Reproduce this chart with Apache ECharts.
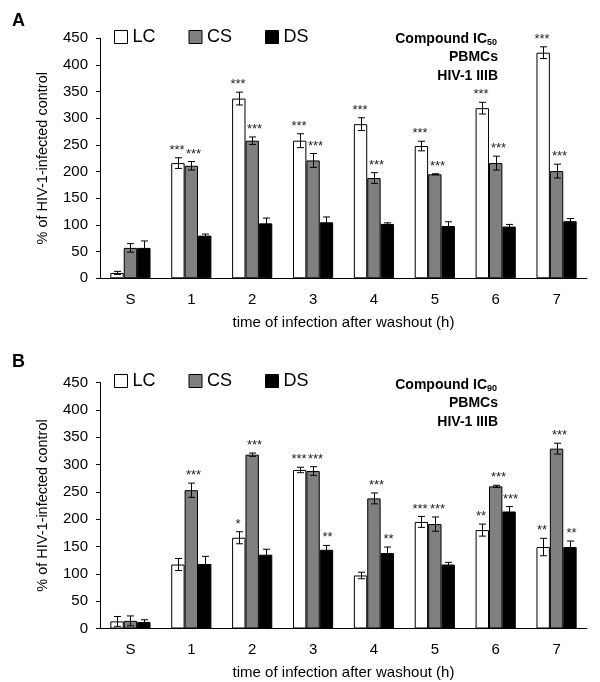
<!DOCTYPE html>
<html><head><meta charset="utf-8">
<script src="https://cdn.jsdelivr.net/npm/echarts@6/dist/echarts.min.js"></script>
<style>html,body{margin:0;padding:0;background:#fff}#c{width:600px;height:682px}</style>
</head><body><div id="c"></div>
<script>
const FONT = '"Liberation Sans", Arial, sans-serif';
const categories = ['S', '1', '2', '3', '4', '5', '6', '7'];
const seriesNames = ['LC', 'CS', 'DS'];
const xTitle = 'time of infection after washout (h)';
const yTitle = '% of HIV-1-infected control';

// Panel A (IC50)
const lcA = [10, 216, 337, 258, 289, 248, 319, 423];
const lcAErr = [3, 10, 12, 13, 12, 9, 11, 11];
const lcAStars = ['', '***', '***', '***', '***', '***', '***', '***'];
const csA = [57, 211, 258, 221, 188, 195, 216, 201];
const csAErr = [8, 8, 7, 13, 10, 1, 13, 13];
const csAStars = ['', '***', '***', '***', '***', '***', '***', '***'];
const dsA = [57, 80, 103, 105, 102, 98, 97, 107];
const dsAErr = [13, 3, 10, 10, 2, 8, 4, 5];
const dsAStars = ['', '', '', '', '', '', '', ''];

// Panel B (IC90)
const lcB = [13, 117, 166, 290, 97, 195, 180, 149];
const lcBErr = [9, 11, 11, 5, 6, 10, 11, 16];
const lcBStars = ['', '', '*', '***', '', '***', '**', '**'];
const csB = [14, 253, 318, 288, 238, 191, 260, 329];
const csBErr = [9, 13, 3, 8, 10, 13, 2, 10];
const csBStars = ['', '***', '***', '***', '***', '***', '***', '***'];
const dsB = [12, 118, 135, 144, 138, 117, 214, 149];
const dsBErr = [4, 14, 10, 8, 11, 4, 9, 11];
const dsBStars = ['', '', '', '**', '**', '', '***', '**'];

const fills = ['#ffffff', '#808080', '#000000'];
const starShift = [-1.5, 2, 1];

function barSeries(name, vals, idx, axis) {
  return {
    type: 'bar', name: name, xAxisIndex: axis, yAxisIndex: axis, data: vals,
    barGap: '0%', barCategoryGap: '34%',
    itemStyle: { color: fills[idx], borderColor: '#000', borderWidth: 1 },
    silent: true
  };
}
function errSeries(name, vals, errs, stars, idx, axis) {
  return {
    type: 'custom', name: name + ' err', xAxisIndex: axis, yAxisIndex: axis, z: 10, silent: true,
    data: vals.map((v, i) => [i, v, errs[i]]),
    renderItem: function (params, api) {
      const cat = api.value(0), v = api.value(1), e = api.value(2);
      const band = api.size([1, 0])[0];
      const bw = band * 0.22;
      const x = Math.round(api.coord([cat, v])[0] + (idx - 1) * bw) + 0.5;
      const yTop = api.coord([cat, v + e])[1];
      const yBot = api.coord([cat, v - e])[1];
      const st = { stroke: '#000', lineWidth: 1 };
      const cap = 3.5;
      const children = [
        { type: 'line', shape: { x1: x, y1: yTop, x2: x, y2: yBot }, style: st },
        { type: 'line', shape: { x1: x - cap, y1: yTop, x2: x + cap, y2: yTop }, style: st },
        { type: 'line', shape: { x1: x - cap, y1: yBot, x2: x + cap, y2: yBot }, style: st }
      ];
      const s = stars[params.dataIndex];
      if (s) {
        children.push({ type: 'text', style: { text: s, x: x + starShift[idx], y: yTop - 1, align: 'center', verticalAlign: 'bottom', fontSize: 13, fontFamily: FONT, fill: '#222' } });
      }
      return { type: 'group', children: children };
    }
  };
}

const axisCommonX = (grid) => ({
  type: 'category', gridIndex: grid, data: categories,
  axisLine: { lineStyle: { color: '#000', width: 1 } },
  axisTick: { length: 5, lineStyle: { color: '#000' } },
  axisLabel: { fontSize: 15, color: '#000', fontFamily: FONT, margin: 14 },
  name: xTitle, nameLocation: 'middle', nameGap: 37,
  nameTextStyle: { fontSize: 15, color: '#000', fontFamily: FONT }
});
const axisCommonY = (grid) => ({
  type: 'value', gridIndex: grid, min: 0, max: 450, interval: 50,
  splitLine: { show: false },
  axisLine: { show: true, lineStyle: { color: '#000', width: 1 } },
  axisTick: { show: true, length: 4, lineStyle: { color: '#000' } },
  axisLabel: { fontSize: 15, color: '#000', fontFamily: FONT, margin: 12 },
  name: yTitle, nameLocation: 'middle', nameGap: 50, nameRotate: 90,
  nameTextStyle: { fontSize: 14.5, color: '#000', fontFamily: FONT }
});
const legendCommon = (top) => ({
  data: seriesNames, left: 114, top: top, padding: 0, icon: 'rect',
  itemWidth: 13, itemHeight: 13, itemGap: 33,
  itemStyle: { borderColor: '#000', borderWidth: 1 },
  textStyle: { fontSize: 18, color: '#000', fontFamily: FONT },
  selectedMode: false
});
function annot(y, sub) {
  const bold14 = { fontSize: 14, fontWeight: 'bold', fontFamily: FONT, fill: '#000' };
  return [
    { type: 'text', x: 487, y: y, style: Object.assign({ text: 'Compound IC', align: 'right', verticalAlign: 'middle' }, bold14) },
    { type: 'text', x: 487, y: y + 4, style: { text: sub, align: 'left', verticalAlign: 'middle', fontSize: 9, fontWeight: 'bold', fontFamily: FONT, fill: '#000' } },
    { type: 'text', x: 498, y: y + 18, style: Object.assign({ text: 'PBMCs', align: 'right', verticalAlign: 'middle' }, bold14) },
    { type: 'text', x: 498, y: y + 37, style: Object.assign({ text: 'HIV-1 IIIB', align: 'right', verticalAlign: 'middle' }, bold14) }
  ];
}

const chart = echarts.init(document.getElementById('c'), null, { renderer: 'canvas' });
chart.setOption({
  animation: false,
  backgroundColor: '#fff',
  grid: [
    { left: 100, right: 13, top: 38.3, height: 240 },
    { left: 100, right: 13, top: 382.5, height: 246 }
  ],
  xAxis: [axisCommonX(0), axisCommonX(1)],
  yAxis: [axisCommonY(0), axisCommonY(1)],
  legend: [legendCommon(28), legendCommon(372)],
  graphic: [
    { type: 'text', x: 12, y: 21, style: { text: 'A', verticalAlign: 'middle', fontSize: 18, fontWeight: 'bold', fontFamily: FONT, fill: '#000' } },
    { type: 'text', x: 12, y: 362, style: { text: 'B', verticalAlign: 'middle', fontSize: 18, fontWeight: 'bold', fontFamily: FONT, fill: '#000' } }
  ].concat(annot(39, '50'), annot(385, '90')),
  series: [
    barSeries('LC', lcA, 0, 0), barSeries('CS', csA, 1, 0), barSeries('DS', dsA, 2, 0),
    barSeries('LC', lcB, 0, 1), barSeries('CS', csB, 1, 1), barSeries('DS', dsB, 2, 1),
    errSeries('LC', lcA, lcAErr, lcAStars, 0, 0), errSeries('CS', csA, csAErr, csAStars, 1, 0), errSeries('DS', dsA, dsAErr, dsAStars, 2, 0),
    errSeries('LC', lcB, lcBErr, lcBStars, 0, 1), errSeries('CS', csB, csBErr, csBStars, 1, 1), errSeries('DS', dsB, dsBErr, dsBStars, 2, 1)
  ]
});
</script>
</body></html>
